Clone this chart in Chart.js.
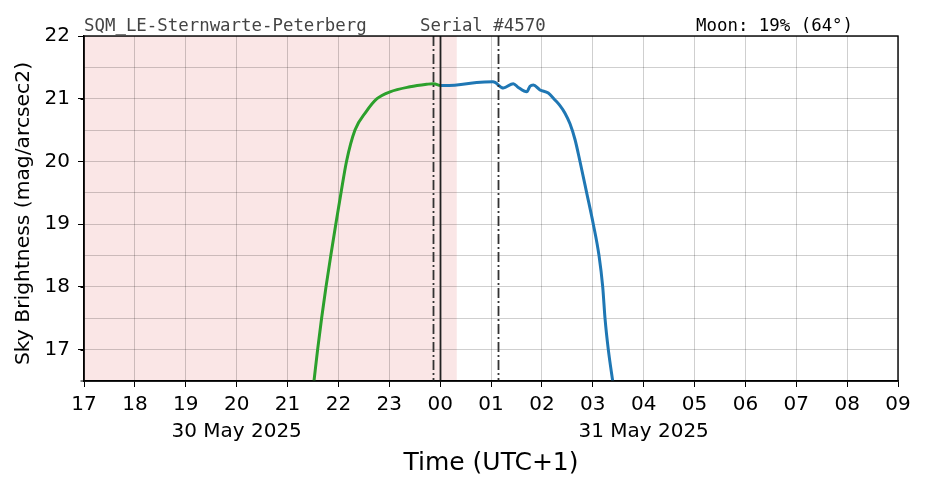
<!DOCTYPE html>
<html>
<head>
<meta charset="utf-8">
<script src="https://cdn.jsdelivr.net/npm/chart.js@4/dist/chart.umd.min.js"></script>
<style>
  html, body { margin: 0; padding: 0; background: #fff; }
  #c { display: block; }
</style>
</head>
<body>
<canvas id="c" width="926" height="488"></canvas>
<script>
// ---------- data ----------
const hourTickLabels = ['17','18','19','20','21','22','23','00','01','02','03','04','05','06','07','08','09'];
const yTickLabels = ['17','18','19','20','21','22'];

// evening (green) series, local time UTC+1
const duskTimes  = ['21:31:15','21:35:31','21:40:13','21:45:24','21:51:04','21:56:57','22:03:07','22:09:35','22:19:36','22:32:35','22:45:33','23:00:54','23:24:29','23:44:10','23:51:58','00:00:00'];
const duskValues = [16.50, 17.00, 17.50, 18.00, 18.50, 19.00, 19.50, 20.00, 20.50, 20.79, 21.00, 21.11, 21.19, 21.23, 21.24, 21.21];

// morning (blue) series
const dawnTimes  = ['00:00:00','00:19:36','00:43:08','01:02:20','01:04:44','01:14:31','01:26:17','01:32:13','01:42:07','01:46:01','01:49:55','01:57:47','02:07:35','02:15:29','02:21:22','02:27:16','02:33:10','02:39:04','02:44:57','02:52:51','03:00:39','03:07:23','03:11:45','03:14:28','03:18:21','03:23:31'];
const dawnValues = [21.21, 21.22, 21.26, 21.27, 21.26, 21.17, 21.24, 21.18, 21.11, 21.20, 21.22, 21.14, 21.09, 20.98, 20.89, 20.77, 20.60, 20.35, 20.00, 19.50, 19.00, 18.50, 18.00, 17.50, 17.00, 16.50];

const shadeSpan = ['17:00:00','00:19:36'];
const dashDotTimes = ['23:52:00','01:08:40'];
const solidTimes = ['00:00:00'];

const dateLabels = ['30 May 2025', '31 May 2025'];
const dateLabelTimes = ['20:00:00', '04:00:00'];

const headerLeft = 'SQM_LE-Sternwarte-Peterberg';
const headerMid = 'Serial #4570';
const headerRight = 'Moon: 19% (64\u00B0)';
const yTitle = 'Sky Brightness (mag/arcsec2)';
const xTitle = 'Time (UTC+1)';

// hours after 17:00 on the first date
function toH(t) {
  const [hh, mm, ss] = t.split(':').map(Number);
  let h = hh + mm / 60 + (ss || 0) / 3600 - 17;
  if (h < 0) h += 24;
  return h;
}
const pts = (ts, vs) => ts.map((t, i) => ({ x: toH(t), y: vs[i] }));

const SANS = '"DejaVu Sans", sans-serif';
const MONO = '"DejaVu Sans Mono", monospace';

const decor = {
  id: 'decor',
  beforeDraw(chart) {
    const { ctx, chartArea: a, scales: { x } } = chart;
    ctx.save();
    ctx.fillStyle = 'rgba(220,80,80,0.14)';
    const x0 = x.getPixelForValue(toH(shadeSpan[0]));
    const x1 = x.getPixelForValue(toH(shadeSpan[1]));
    ctx.fillRect(x0, a.top, x1 - x0, a.bottom - a.top);
    ctx.restore();
  },
  afterDatasetsDraw(chart) {
    const { ctx, chartArea: a, scales: { x, y } } = chart;
    ctx.save();
    ctx.beginPath();
    ctx.rect(a.left, a.top, a.right - a.left, a.bottom - a.top);
    ctx.clip();
    ctx.lineWidth = 1.8;
    ctx.strokeStyle = '#333';
    ctx.setLineDash([10, 3, 2, 3]);
    dashDotTimes.forEach(t => {
      const px = Math.round(x.getPixelForValue(toH(t))) + 0.5;
      ctx.beginPath(); ctx.moveTo(px, a.top); ctx.lineTo(px, a.bottom); ctx.stroke();
    });
    ctx.setLineDash([]);
    ctx.strokeStyle = '#222';
    solidTimes.forEach(t => {
      const px = Math.round(x.getPixelForValue(toH(t))) + 0.5;
      ctx.beginPath(); ctx.moveTo(px, a.top); ctx.lineTo(px, a.bottom); ctx.stroke();
    });
    ctx.restore();

    // frame
    ctx.save();
    ctx.strokeStyle = '#000';
    ctx.lineWidth = 1.4;
    ctx.strokeRect(a.left, a.top, a.right - a.left, a.bottom - a.top);
    // minor y ticks
    ctx.lineWidth = 1;
    for (let v = y.min + 0.5; v < y.max; v += 1) {
      const py = Math.round(y.getPixelForValue(v)) + 0.5;
      ctx.beginPath(); ctx.moveTo(a.left - 3.5, py); ctx.lineTo(a.left, py); ctx.stroke();
    }
    const pyb = Math.round(y.getPixelForValue(y.min));
    ctx.beginPath(); ctx.moveTo(a.left - 3.5, pyb); ctx.lineTo(a.left, pyb); ctx.stroke();
    ctx.restore();
  },
  afterDraw(chart) {
    const { ctx, chartArea: a, scales: { x } } = chart;
    ctx.save();
    // header
    ctx.font = '17.4px ' + MONO;
    ctx.textBaseline = 'alphabetic';
    ctx.textAlign = 'left';
    ctx.fillStyle = '#444';
    ctx.fillText(headerLeft, a.left, 31);
    ctx.fillText(headerMid, 420, 31);
    ctx.fillStyle = '#000';
    ctx.fillText(headerRight, 696, 31);

    // date labels
    ctx.font = '20px ' + SANS;
    ctx.textAlign = 'center';
    dateLabels.forEach((s, i) => {
      ctx.fillText(s, x.getPixelForValue(toH(dateLabelTimes[i])), 437);
    });
    // x title
    ctx.font = '25px ' + SANS;
    ctx.fillText(xTitle, (a.left + a.right) / 2, 470);
    // y title
    ctx.font = '20.3px ' + SANS;
    ctx.translate(24, (a.top + a.bottom) / 2 + 5);
    ctx.rotate(-Math.PI / 2);
    ctx.textBaseline = 'middle';
    ctx.fillText(yTitle, 0, 0);
    ctx.restore();
  }
};

const gridColor = 'rgba(0,0,0,0.24)';

new Chart(document.getElementById('c'), {
  type: 'line',
  data: {
    datasets: [
      { data: pts(duskTimes, duskValues), borderColor: '#2ca02c', borderWidth: 3, pointRadius: 0, cubicInterpolationMode: 'monotone', fill: false },
      { data: pts(dawnTimes, dawnValues), borderColor: '#1f77b4', borderWidth: 3, pointRadius: 0, cubicInterpolationMode: 'monotone', fill: false }
    ]
  },
  options: {
    responsive: false,
    animation: false,
    devicePixelRatio: 1,
    layout: { padding: { top: 36, right: 28, left: 0, bottom: 0 } },
    plugins: { legend: { display: false }, tooltip: { enabled: false }, title: { display: false } },
    scales: {
      x: {
        type: 'linear', min: 0, max: 16,
        afterFit(s) { s.height = 107; },
        ticks: {
          stepSize: 1, autoSkip: false, maxRotation: 0, padding: 6,
          color: '#000', font: { family: SANS, size: 20 },
          callback: (v) => hourTickLabels[Math.round(v)] ?? ''
        },
        grid: { color: gridColor, lineWidth: 0.8, tickColor: '#000', tickLength: 6, tickWidth: 1 },
        border: { display: true, color: '#000', width: 1.4 }
      },
      y: {
        type: 'linear', min: 16.5, max: 22,
        afterFit(s) { s.width = 84; },
        ticks: {
          stepSize: 0.5, autoSkip: false, padding: 8,
          color: '#000', font: { family: SANS, size: 20 },
          callback: (v) => Number.isInteger(v) ? yTickLabels[v - 17] ?? '' : ''
        },
        grid: {
          color: gridColor, lineWidth: 0.8, tickLength: 6, tickWidth: 1,
          tickColor: (c) => (c.tick && Number.isInteger(c.tick.value)) ? '#000' : 'rgba(0,0,0,0)'
        },
        border: { display: true, color: '#000', width: 1.4 }
      }
    }
  },
  plugins: [decor]
});
</script>
</body>
</html>
